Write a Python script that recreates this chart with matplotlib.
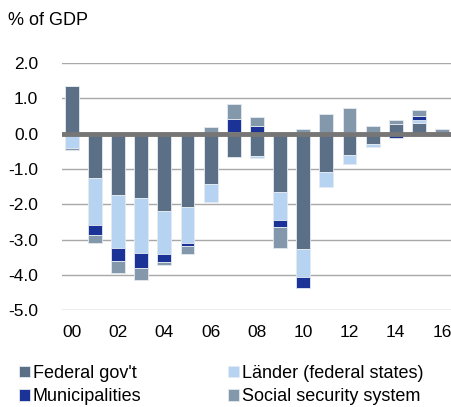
import numpy as np
import matplotlib.pyplot as plt

plt.rcParams['font.family'] = ['Liberation Sans', 'DejaVu Sans']

# Jahre und Finanzierungssaldo in % des BIP
years = ['00', '01', '02', '03', '04', '05', '06', '07', '08', '09',
         '10', '11', '12', '13', '14', '15', '16']
federal = [1.35, -1.25, -1.73, -1.81, -2.20, -2.07, -1.44, -0.67, -0.62, -1.64,
           -3.26, -1.10, -0.60, -0.28, 0.28, 0.31, 0.00]
laender = [-0.42, -1.35, -1.50, -1.56, -1.22, -1.02, -0.49, 0.05, -0.06, -0.80,
           -0.79, -0.42, -0.25, -0.11, 0.00, 0.08, 0.00]
munis = [0.00, -0.26, -0.37, -0.45, -0.23, -0.10, 0.00, 0.37, 0.23, -0.20,
         -0.32, 0.00, 0.05, 0.00, -0.12, 0.12, 0.00]
social = [-0.05, -0.25, -0.34, -0.34, -0.06, -0.21, 0.20, 0.43, 0.25, -0.59,
          0.14, 0.56, 0.69, 0.23, 0.11, 0.16, 0.12]

series = [("Federal gov't", federal, '#5b7086'),
          ("Länder (federal states)", laender, '#b6d3f1'),
          ("Municipalities", munis, '#1b3296'),
          ("Social security system", social, '#8498ab')]

fig = plt.figure(figsize=(4.52, 4.07), dpi=100)
ax = fig.add_axes([0.137, 0.238, 0.863, 0.607])

x = np.arange(len(years))
pos = np.zeros(len(years))
neg = np.zeros(len(years))
handles = []
for name, vals, col in series:
    v = np.array(vals)
    base = np.where(v >= 0, pos, neg)
    b = ax.bar(x, v, 0.6, bottom=base, color=col, edgecolor='#e4eaf0',
               linewidth=0.6, label=name, zorder=2)
    handles.append(b)
    pos += np.where(v >= 0, v, 0)
    neg += np.where(v < 0, v, 0)

ax.axhline(0, color='#767676', linewidth=3.5, zorder=3)
ax.set_ylim(-5, 2)
ax.set_xlim(-0.43, 16.43)
ax.set_yticks(np.arange(-5, 2.1, 1))
ax.set_yticklabels(['%.1f' % t for t in np.arange(-5, 2.1, 1)])
ax.set_xticks(x[::2])
ax.set_xticklabels(years[::2])
ax.grid(axis='y', color='#a8a8a8', linewidth=1, zorder=0)
ax.set_axisbelow(True)
for s in ax.spines.values():
    s.set_visible(False)
ax.tick_params(length=0, labelsize=12.5, colors='black')
ax.tick_params(axis='y', pad=17)
ax.tick_params(axis='x', pad=11)

fig.text(0.018, 0.95, '% of GDP', fontsize=13, va='center')

# Reihenfolge so, dass Zeile 1: Federal, Länder; Zeile 2: Municipalities, Social
order = [0, 2, 1, 3]
fig.legend([handles[i] for i in order], [series[i][0] for i in order],
           loc='upper left', bbox_to_anchor=(0.042, 0.103), ncol=2, frameon=False,
           fontsize=13, handlelength=0.6, handleheight=0.6, handletextpad=0.17,
           columnspacing=4.8, labelspacing=0.35, borderpad=0, borderaxespad=0)

fig.savefig('out.png', dpi=100)
